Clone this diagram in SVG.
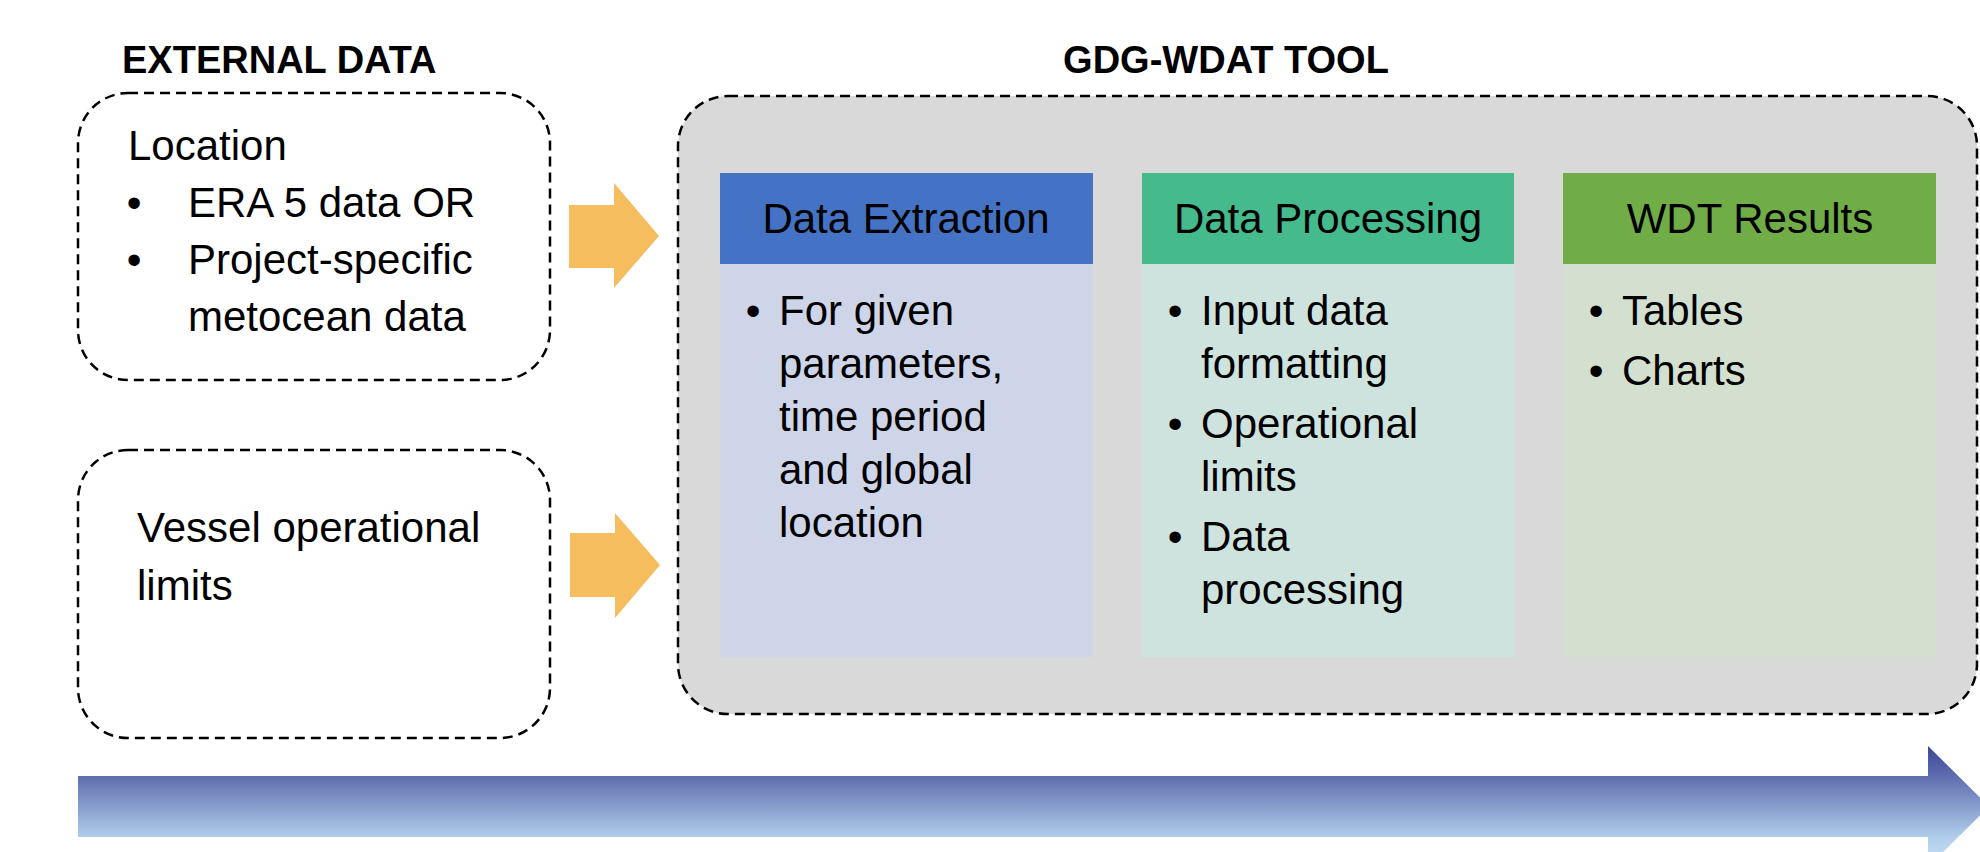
<svg xmlns="http://www.w3.org/2000/svg" width="1980" height="852" viewBox="0 0 1980 852">
<style>
  text { font-family: "Liberation Sans", Arial, sans-serif; fill: #000; }
  .title { font-weight: bold; font-size: 38px; }
  .t { font-size: 42px; }
  .hdr { font-size: 42px; text-anchor: middle; }
  .bul { font-size: 42px; text-anchor: middle; }
  .dash { fill: none; stroke: #000; stroke-width: 2.5; stroke-dasharray: 10 6; }
  .orange { fill: #F5BD5D; }
</style>
<defs>
  <linearGradient id="flowGrad" gradientUnits="userSpaceOnUse" x1="0" y1="746" x2="0" y2="867">
    <stop offset="0" stop-color="#3A4796"/>
    <stop offset="0.25" stop-color="#5E6EAF"/>
    <stop offset="0.75" stop-color="#B0CDEB"/>
    <stop offset="1" stop-color="#C8E2F7"/>
  </linearGradient>
</defs>

<rect x="0" y="0" width="1980" height="852" fill="#FFFFFF"/>

<g id="titles">
  <text class="title" x="122" y="73">EXTERNAL DATA</text>
  <text class="title" x="1226" y="73" text-anchor="middle">GDG-WDAT TOOL</text>
</g>

<g id="external-location">
  <rect class="dash" x="78" y="93" width="472" height="287" rx="50" ry="50"/>
  <text class="t" x="128" y="160">Location</text>
  <text class="bul" x="134" y="217">•</text>
  <text class="t" x="188" y="217">ERA 5 data OR</text>
  <text class="bul" x="134" y="274">•</text>
  <text class="t" x="188" y="274">Project-specific</text>
  <text class="t" x="188" y="331">metocean data</text>
</g>

<g id="external-vessel">
  <rect class="dash" x="78" y="450" width="472" height="288" rx="50" ry="50"/>
  <text class="t" x="137" y="542">Vessel operational</text>
  <text class="t" x="137" y="600">limits</text>
</g>

<g id="gdg-wdat-tool">
  <rect x="678" y="96" width="1299" height="618" rx="50" ry="50" fill="#D9D9D9" stroke="#000" stroke-width="2.5" stroke-dasharray="10 6"/>
</g>

<g id="data-extraction">
  <rect x="720" y="264" width="373" height="393" fill="#CFD5E8"/>
  <rect x="720" y="173" width="373" height="91" fill="#4472C4"/>
  <text class="hdr" x="906" y="233">Data Extraction</text>
  <text class="bul" x="753" y="325">•</text>
  <text class="t" x="779" y="325">For given</text>
  <text class="t" x="779" y="378">parameters,</text>
  <text class="t" x="779" y="431">time period</text>
  <text class="t" x="779" y="484">and global</text>
  <text class="t" x="779" y="537">location</text>
</g>

<g id="data-processing">
  <rect x="1142" y="264" width="372" height="393" fill="#CFE3DE"/>
  <rect x="1142" y="173" width="372" height="91" fill="#44BA8D"/>
  <text class="hdr" x="1328" y="233">Data Processing</text>
  <text class="bul" x="1175" y="325">•</text>
  <text class="t" x="1201" y="325">Input data</text>
  <text class="t" x="1201" y="378">formatting</text>
  <text class="bul" x="1175" y="438">•</text>
  <text class="t" x="1201" y="438">Operational</text>
  <text class="t" x="1201" y="491">limits</text>
  <text class="bul" x="1175" y="551">•</text>
  <text class="t" x="1201" y="551">Data</text>
  <text class="t" x="1201" y="604">processing</text>
</g>

<g id="wdt-results">
  <rect x="1563" y="264" width="373" height="393" fill="#D4E0CF"/>
  <rect x="1563" y="173" width="373" height="91" fill="#70AD47"/>
  <text class="hdr" x="1750" y="233">WDT Results</text>
  <text class="bul" x="1596" y="325">•</text>
  <text class="t" x="1622" y="325">Tables</text>
  <text class="bul" x="1596" y="385">•</text>
  <text class="t" x="1622" y="385">Charts</text>
</g>

<g id="connectors">
  <polygon class="orange" points="569,205 614,205 614,183 659,236 614,288 614,268 569,268"/>
  <polygon class="orange" points="570,533 615,533 615,513 660,565 615,618 615,597 570,597"/>
</g>

<g id="flow-arrow">
  <polygon fill="url(#flowGrad)" points="78,776 1928,776 1928,746 1989,806.5 1928,867 1928,837 78,837"/>
</g>
</svg>
